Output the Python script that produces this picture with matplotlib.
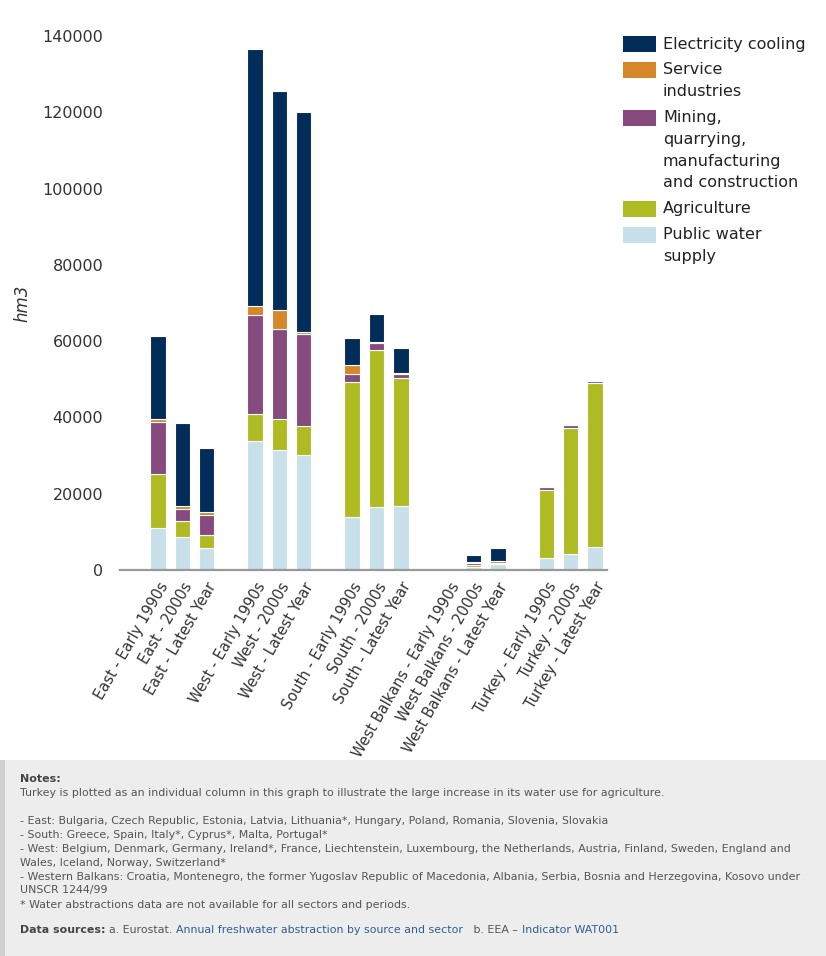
import numpy as np
import matplotlib.pyplot as plt
from matplotlib.patches import Rectangle

# Categories
regions = ['East', 'West', 'South', 'West Balkans', 'Turkey']
periods = ['Early 1990s', '2000s', 'Latest Year']

# Freshwater abstraction by sector (hm3), one value per region/period
public = [11000, 8600, 5700, 33900, 31500, 30100, 13800, 16400, 16700,
          150, 900, 1700, 3100, 4300, 6000]
agriculture = [14100, 4200, 3600, 7100, 8100, 7700, 35400, 41300, 33600,
               100, 500, 100, 17800, 32900, 43100]
mining = [13800, 3200, 5000, 25800, 23600, 24100, 2200, 1800, 1100,
          100, 400, 100, 850, 700, 450]
service = [700, 650, 800, 2500, 5000, 600, 2400, 400, 300,
           50, 200, 350, 100, 250, 250]
electricity = [21800, 21800, 17000, 67200, 57500, 57600, 6900, 7200, 6400,
               250, 1900, 3400, 200, 400, 350]

series_names = ['Public water supply', 'Agriculture',
                'Mining, quarrying, manufacturing and construction',
                'Service industries', 'Electricity cooling']
legend_labels = ['Public water\nsupply', 'Agriculture',
                 'Mining,\nquarrying,\nmanufacturing\nand construction',
                 'Service\nindustries', 'Electricity cooling']
colors = ['#c8e0ea', '#afbb22', '#864a7f', '#d6872a', '#022c59']

yticks = [0, 20000, 40000, 60000, 80000, 100000, 120000, 140000]

W, H = 826, 956
fig = plt.figure(figsize=(W / 100, H / 100), dpi=100)
ax = fig.add_axes([120 / W, 1 - 570 / H, 487 / W, 534 / H])

# Bar positions: three periods per region, one empty slot between regions
x = np.array([g * 4 + p for g in range(len(regions)) for p in range(len(periods))])
labels = ['%s - %s' % (r, p) for r in regions for p in periods]

data = [public, agriculture, mining, service, electricity]
bottom = np.zeros(len(x))
for vals, c, name in zip(data, colors, series_names):
    vals = np.array(vals, dtype=float)
    ax.bar(x, vals, 0.64, bottom=bottom, color=c, edgecolor='white',
           linewidth=0.8, label=name)
    bottom += vals

ax.set_xlim(-1.57, 18.5)
ax.set_ylim(0, 140000)
ax.set_yticks(yticks)
ax.set_yticklabels([str(v) for v in yticks], fontsize=11.5, color='#333333')
ax.set_xticks(x)
ax.set_xticklabels(labels, rotation=60, ha='right', rotation_mode='anchor',
                   fontsize=10.5, color='#333333')
ax.tick_params(axis='y', length=0, pad=12)
ax.tick_params(axis='x', length=0, pad=7)
for s in ['top', 'right', 'left']:
    ax.spines[s].set_visible(False)
ax.spines['bottom'].set_color('#999999')
ax.spines['bottom'].set_linewidth(1.6)
ax.set_ylabel('hm3', fontsize=12, style='italic', color='#333333', labelpad=8)

# Legend, drawn by hand so the swatch sits on the first line of the label
ytop = 44.0
for i in range(len(series_names) - 1, -1, -1):
    lines = legend_labels[i].split('\n')
    fig.patches.append(Rectangle((623 / W, 1 - (ytop + 8) / H), 33 / W, 16 / H,
                                 transform=fig.transFigure, fc=colors[i], ec='none'))
    for k, line in enumerate(lines):
        fig.text(663 / W, 1 - (ytop + k * 21.7) / H, line, fontsize=11.5,
                 va='center', ha='left', color='#222222')
    ytop += len(lines) * 21.7 + 4.3

# Notes box (behind everything else)
fig.patches.append(Rectangle((0, 0), 1, 196 / H, transform=fig.transFigure,
                             fc='#ededed', ec='none', zorder=-2))
fig.patches.append(Rectangle((0, 0), 5 / W, 196 / H, transform=fig.transFigure,
                             fc='#cfcfcf', ec='none', zorder=-1))

note_lines = [
    'Turkey is plotted as an individual column in this graph to illustrate the large increase in its water use for agriculture.',
    '- East: Bulgaria, Czech Republic, Estonia, Latvia, Lithuania*, Hungary, Poland, Romania, Slovenia, Slovakia',
    '- South: Greece, Spain, Italy*, Cyprus*, Malta, Portugal*',
    '- West: Belgium, Denmark, Germany, Ireland*, France, Liechtenstein, Luxembourg, the Netherlands, Austria, Finland, Sweden, England and',
    'Wales, Iceland, Norway, Switzerland*',
    '- Western Balkans: Croatia, Montenegro, the former Yugoslav Republic of Macedonia, Albania, Serbia, Bosnia and Herzegovina, Kosovo under',
    'UNSCR 1244/99',
    '* Water abstractions data are not available for all sectors and periods.',
]
note_y = [793, 821, 834.5, 848.5, 862.5, 876.5, 890.5, 904.5]
nfs = 7.95
fig.text(20 / W, 1 - 779 / H, 'Notes:', fontsize=nfs, weight='bold',
         color='#444444', va='center')
for line, yy in zip(note_lines, note_y):
    fig.text(20 / W, 1 - yy / H, line, fontsize=nfs, color='#555555', va='center')

# Data sources line, pieces chained one after another
pieces = [('Data sources: ', 'bold', '#444444'),
          ('a. Eurostat. ', 'normal', '#555555'),
          ('Annual freshwater abstraction by source and sector', 'normal', '#2f5f8f'),
          ('   b. EEA \u2013 ', 'normal', '#555555'),
          ('Indicator WAT001', 'normal', '#2f5f8f')]
prev = fig.text(20 / W, 1 - 935 / H, pieces[0][0], fontsize=nfs,
                weight=pieces[0][1], color=pieces[0][2], va='bottom')
for txt, wt, col in pieces[1:]:
    prev = ax.annotate(txt, xy=(1, 0), xycoords=prev, va='bottom', ha='left',
                       fontsize=nfs, weight=wt, color=col, annotation_clip=False)

fig.savefig('out.png', dpi=100)
